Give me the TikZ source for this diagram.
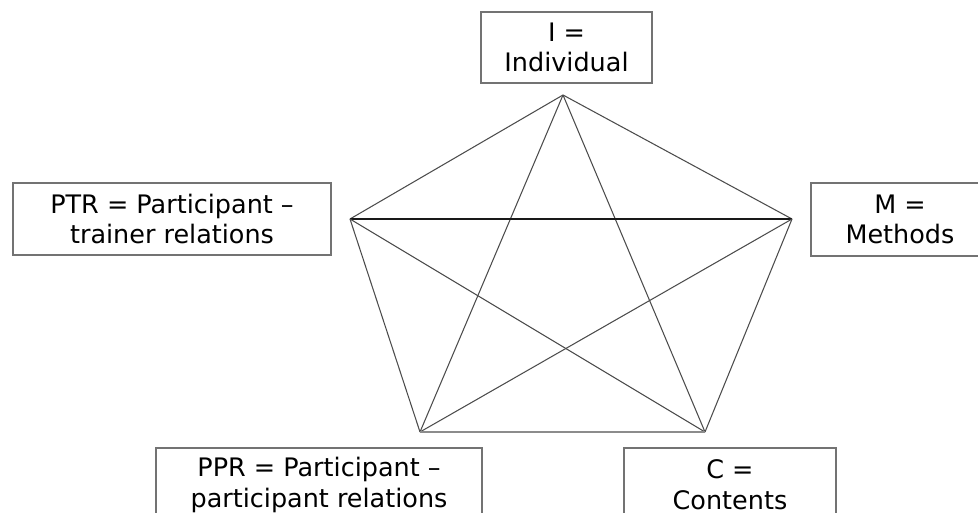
\documentclass[tikz,border=0pt]{standalone}
\usepackage{fontspec}
\setmainfont{DejaVu Sans}
\usetikzlibrary{calc}
\tikzset{
	lbox/.style={draw=black!55, line width=0.9pt, align=center, inner sep=0pt,
		font=\fontsize{14.5}{17.5}\selectfont},
	edge/.style={line width=0.6pt, color=black!70}
}

\begin{document}
\begin{tikzpicture}[x=0.02cm, y=-0.02cm]
			%%%%% START %%%%%
			\useasboundingbox (0, 0) rectangle (978, 513);
			
			% boxes
			\node[lbox, minimum width=171*0.02cm, minimum height=71*0.02cm] (ind) at (566.5, 47.5) {I =\\Individual};
			\node[lbox, minimum width=318*0.02cm, minimum height=72*0.02cm] (ptr) at (172, 219) {PTR = Participant –\\trainer relations};
			\node[lbox, minimum width=178*0.02cm, minimum height=73*0.02cm] (met) at (900, 219.5) {M =\\Methods};
			\node[lbox, minimum width=326*0.02cm, minimum height=74*0.02cm] (ppr) at (319, 485) {PPR = Participant –\\participant relations};
			\node[lbox, minimum width=212*0.02cm, minimum height=74*0.02cm] (con) at (730, 485) {C =\\Contents};
			
			% corners of the pentagon
			\coordinate (vi) at (563, 95);
			\coordinate (vptr) at (350, 219);
			\coordinate (vm) at (792, 219);
			\coordinate (vppr) at (420, 432);
			\coordinate (vc) at (705, 432);
			
			\draw[edge] (vi) -- (vptr);
			\draw[edge] (vi) -- (vm);
			\draw[edge] (vi) -- (vppr);
			\draw[edge] (vi) -- (vc);
			\draw[line width=1pt, color=black!90] (vptr) -- (vm);
			\draw[edge] (vptr) -- (vppr);
			\draw[edge] (vptr) -- (vc);
			\draw[edge] (vm) -- (vppr);
			\draw[edge] (vm) -- (vc);
			\draw[edge, color=black!45] (vppr) -- (vc);
			
			%%%%% END %%%%%
\end{tikzpicture}
\end{document}
